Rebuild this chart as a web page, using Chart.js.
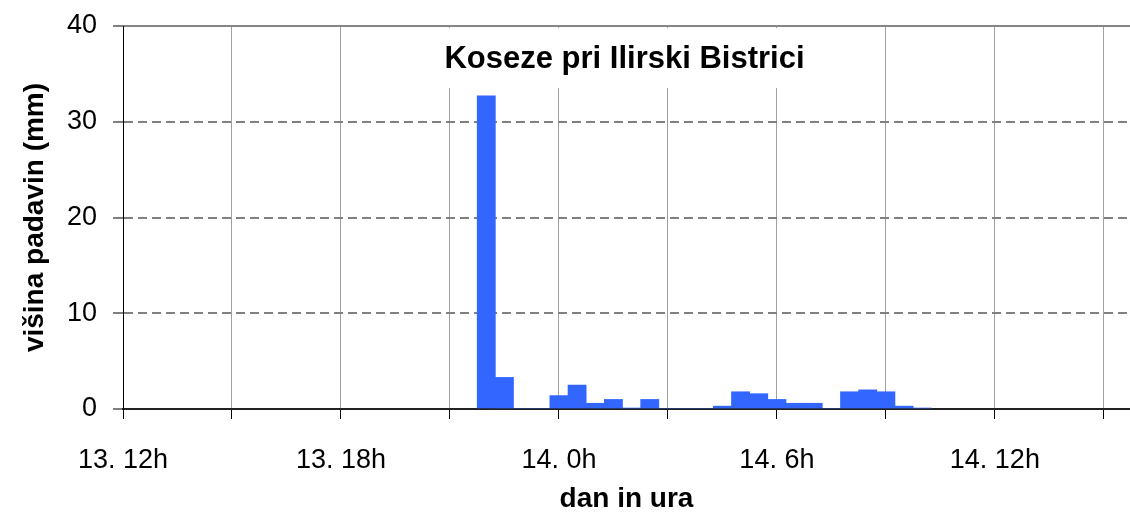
<!DOCTYPE html>
<html>
<head>
<meta charset="utf-8">
<script src="https://cdn.jsdelivr.net/npm/chart.js@4.4.0/dist/chart.umd.min.js"></script>
<style>
  html, body { margin: 0; padding: 0; background: #fff; }
</style>
</head>
<body>
<canvas id="rainChart" width="1130" height="515"></canvas>
<script>
// half-hour rain sums, time in hours counted from 13. 0h
const hours = [22, 22.5, 23, 23.5, 24, 24.5, 25, 25.5, 26, 26.5, 27, 27.5, 28,
               28.5, 29, 29.5, 30, 30.5, 31, 31.5, 32, 32.5, 33, 33.5, 34];
const rain = [32.7, 3.3, 0, 0, 1.4, 2.5, 0.6, 1.0, 0.1, 1.0, 0, 0, 0,
              0.3, 1.8, 1.6, 1.0, 0.6, 0.6, 0, 1.8, 2.0, 1.8, 0.3, 0.1];
const xTickLabels = ['13. 12h', '13. 18h', '14. 0h', '14. 6h', '14. 12h'];
const chartTitle = 'Koseze pri Ilirski Bistrici';
const xTitle = 'dan in ura';
const yTitle = 'višina padavin (mm)';

const FONT = '"Liberation Sans", Arial, Helvetica, sans-serif';

// title sits inside the plot on a white box that hides the grid
const boxTitle = {
    id: 'boxTitle',
    beforeDatasetsDraw(chart) {
        const ctx = chart.ctx;
        const area = chart.chartArea;
        const cx = (area.left + area.right) / 2 - 2;
        ctx.save();
        ctx.font = 'bold 31px ' + FONT;
        const w = ctx.measureText(chartTitle).width;
        ctx.fillStyle = '#fff';
        ctx.fillRect(cx - w / 2 - 10, area.top + 2, w + 20, 60);
        ctx.fillStyle = '#000';
        ctx.textAlign = 'center';
        ctx.textBaseline = 'alphabetic';
        ctx.fillText(chartTitle, cx, area.top + 42);
        ctx.restore();
    }
};

function make_chart(){
    const ctx = document.getElementById('rainChart');
    const points = hours.map(function(h, i){ return {x: h, y: rain[i]}; });

    return new Chart(ctx, {
        type: 'bar',
        data: {
            datasets: [{
                data: points,
                backgroundColor: '#3366ff',
                borderWidth: 0,
                barPercentage: 1,
                categoryPercentage: 1
            }]
        },
        options: {
            responsive: false,
            animation: false,
            devicePixelRatio: 1,
            layout: { padding: { top: 26, right: 0, bottom: 0, left: 0 } },
            plugins: {
                legend: { display: false },
                title: { display: false },
                tooltip: { enabled: false }
            },
            scales: {
                x: {
                    type: 'linear',
                    min: 12,
                    max: 39.72,
                    offset: false,
                    grid: {
                        offset: false,
                        color: function(c){ return c.tick && c.tick.value === 12 ? 'rgba(0,0,0,0)' : '#a0a0a0'; },
                        lineWidth: 1,
                        tickColor: '#000',
                        tickWidth: 1,
                        tickLength: 10
                    },
                    border: { color: '#222', width: 2 },
                    ticks: {
                        stepSize: 3,
                        includeBounds: false,
                        autoSkip: false,
                        maxRotation: 0,
                        padding: 25,
                        color: '#000',
                        font: { family: FONT, size: 27 },
                        callback: function(value){
                            const k = (value - 12) / 6;
                            return Number.isInteger(k) ? xTickLabels[k] : '';
                        }
                    },
                    title: {
                        display: true,
                        text: xTitle,
                        color: '#000',
                        font: { family: FONT, size: 28, weight: 'bold', lineHeight: 1.1 },
                        padding: { top: 0, bottom: 0 }
                    },
                    afterFit: function(scale){ scale.height = 106; }
                },
                x2: {
                    type: 'linear',
                    position: 'top',
                    display: true,
                    grid: { display: false, drawTicks: false },
                    ticks: { display: false },
                    border: { color: '#858585', width: 2 },
                    afterFit: function(scale){ scale.height = 0; }
                },
                y: {
                    min: 0,
                    max: 40,
                    grid: {
                        color: function(c){
                            const v = c.tick ? c.tick.value : null;
                            return (v === 0 || v === 40) ? 'rgba(0,0,0,0)' : '#808080';
                        },
                        lineWidth: 2,
                        tickColor: '#000',
                        tickWidth: 1,
                        tickLength: 10
                    },
                    border: { color: '#000', width: 1, dash: [9, 5] },
                    ticks: {
                        stepSize: 10,
                        padding: 16,
                        color: '#000',
                        font: { family: FONT, size: 27 }
                    },
                    title: {
                        display: true,
                        text: yTitle,
                        color: '#000',
                        font: { family: FONT, size: 28, weight: 'bold' },
                        padding: { top: 18, bottom: 0 }
                    },
                    afterFit: function(scale){
                        // fixed axis width, and no extra room for the top label
                        scale.width = 123;
                        scale.paddingTop = 0;
                        scale.paddingBottom = 0;
                    }
                }
            }
        },
        plugins: [boxTitle]
    });
}

make_chart();
</script>
</body>
</html>
